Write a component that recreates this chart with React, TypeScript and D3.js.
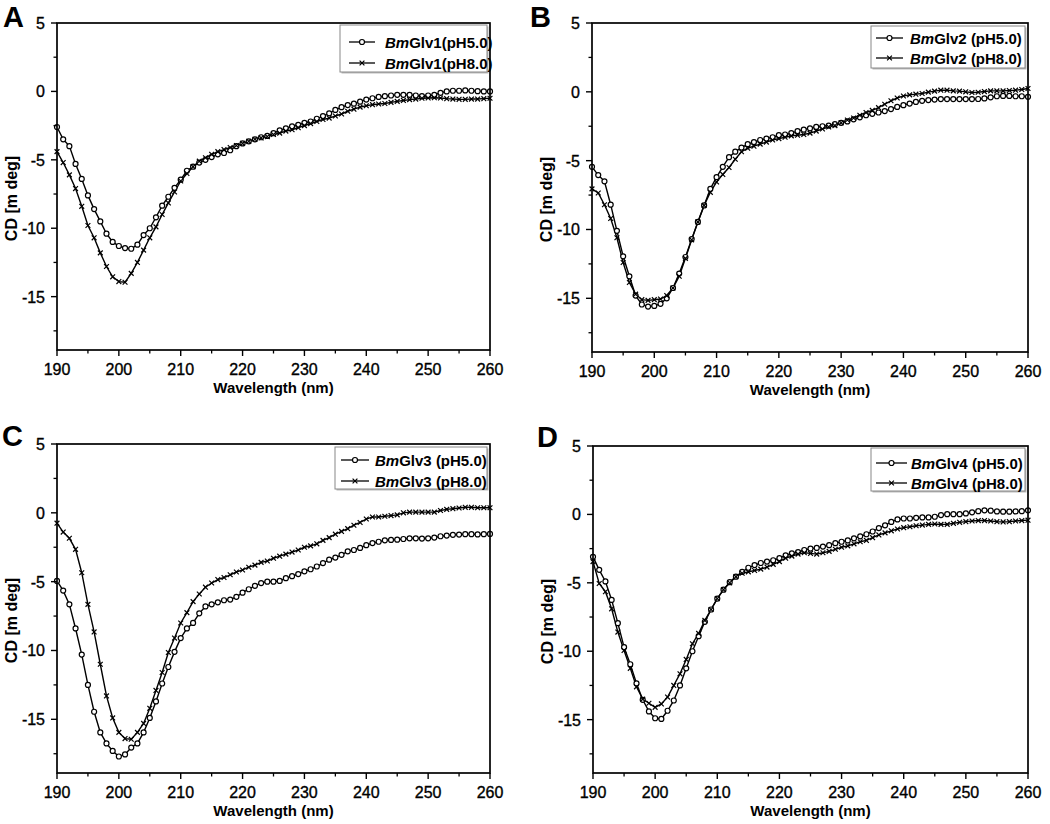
import React from "react";
import * as d3 from "d3";

const wavelengths: number[] = d3.range(190, 261, 1);

const xTicks = [190, 200, 210, 220, 230, 240, 250, 260];
const yTicks = [5, 0, -5, -10, -15];

const A_pH5 = [-2.6,-3.5,-4.0,-5.3,-6.4,-7.6,-8.6,-9.5,-10.4,-11.0,
-11.3,-11.45,-11.5,-11.2,-10.5,-10.0,-9.2,-8.35,-7.7,-7.05,
-6.45,-5.8,-5.5,-5.2,-5.0,-4.8,-4.6,-4.5,-4.3,-4.0,
-3.8,-3.65,-3.5,-3.35,-3.25,-3.05,-2.85,-2.7,-2.55,-2.45,
-2.3,-2.2,-2.0,-1.8,-1.6,-1.35,-1.15,-1.0,-0.9,-0.75,
-0.6,-0.5,-0.4,-0.35,-0.3,-0.25,-0.25,-0.25,-0.3,-0.35,
-0.3,-0.25,-0.1,0,0.05,0.05,0.07,0.05,0.02,0,
0];
const A_pH8 = [-4.4,-5.2,-6.1,-7.1,-8.4,-9.8,-10.7,-11.8,-12.8,-13.55,
-13.9,-13.95,-13.3,-12.5,-11.6,-10.7,-9.9,-9.0,-8.15,-7.35,
-6.55,-6.0,-5.5,-5.1,-4.85,-4.6,-4.4,-4.25,-4.1,-3.95,
-3.8,-3.65,-3.5,-3.4,-3.3,-3.15,-3.05,-2.9,-2.8,-2.65,
-2.5,-2.35,-2.2,-2.05,-1.95,-1.8,-1.65,-1.45,-1.3,-1.15,
-1.05,-0.97,-0.92,-0.88,-0.8,-0.73,-0.66,-0.6,-0.56,-0.5,
-0.48,-0.46,-0.48,-0.53,-0.56,-0.58,-0.58,-0.56,-0.56,-0.53,
-0.5];
const B_pH5 = [-5.45,-6.05,-6.5,-8.2,-10.1,-11.95,-13.4,-14.8,-15.45,-15.6,
-15.55,-15.4,-15.0,-14.25,-13.2,-12.0,-10.7,-9.45,-8.25,-7.05,
-6.2,-5.45,-4.75,-4.35,-4.05,-3.8,-3.65,-3.5,-3.4,-3.3,
-3.15,-3.1,-3.0,-2.85,-2.75,-2.65,-2.55,-2.5,-2.45,-2.35,
-2.25,-2.15,-2.0,-1.85,-1.7,-1.6,-1.5,-1.4,-1.25,-1.1,
-0.97,-0.85,-0.73,-0.65,-0.6,-0.56,-0.53,-0.53,-0.53,-0.53,
-0.53,-0.53,-0.52,-0.48,-0.4,-0.32,-0.3,-0.3,-0.32,-0.32,
-0.36];
const B_pH8 = [-7.05,-7.35,-8.2,-9.2,-10.6,-12.4,-13.85,-14.7,-15.1,-15.15,
-15.1,-15.05,-14.8,-14.25,-13.4,-12.1,-10.75,-9.45,-8.25,-7.3,
-6.55,-6.0,-5.5,-4.9,-4.35,-4.1,-3.95,-3.8,-3.65,-3.5,
-3.4,-3.3,-3.2,-3.15,-3.1,-3.0,-2.85,-2.7,-2.55,-2.45,
-2.25,-2.05,-1.9,-1.7,-1.5,-1.35,-1.15,-0.9,-0.65,-0.45,
-0.3,-0.22,-0.17,-0.12,-0.02,0.05,0.12,0.12,0.07,0.05,
0,-0.05,-0.03,0.02,0.07,0.07,0.07,0.1,0.12,0.17,
0.24];
const C_pH5 = [-4.95,-5.65,-6.65,-8.4,-10.3,-12.5,-14.45,-15.95,-16.75,-17.3,
-17.7,-17.55,-17.05,-16.75,-15.95,-14.9,-13.7,-12.4,-11.2,-10.1,
-9.1,-8.4,-8.0,-7.3,-6.8,-6.65,-6.5,-6.35,-6.3,-6.1,
-5.8,-5.55,-5.3,-5.1,-5.0,-5.0,-4.95,-4.75,-4.6,-4.45,
-4.25,-4.1,-3.9,-3.65,-3.4,-3.25,-3.05,-2.8,-2.7,-2.55,
-2.35,-2.2,-2.1,-2.0,-1.97,-1.95,-1.9,-1.85,-1.85,-1.87,
-1.85,-1.8,-1.7,-1.65,-1.6,-1.58,-1.55,-1.55,-1.57,-1.55,
-1.53];
const C_pH8 = [-0.75,-1.4,-1.85,-2.65,-4.35,-6.65,-8.65,-11.0,-13.3,-14.9,
-15.95,-16.4,-16.45,-15.95,-15.3,-14.2,-12.9,-11.6,-10.15,-9.1,
-8.0,-7.25,-6.45,-5.9,-5.4,-5.1,-4.85,-4.7,-4.5,-4.3,
-4.15,-3.95,-3.8,-3.6,-3.5,-3.3,-3.15,-3.0,-2.85,-2.7,
-2.5,-2.4,-2.25,-2.0,-1.8,-1.55,-1.35,-1.15,-0.9,-0.7,
-0.45,-0.3,-0.3,-0.25,-0.2,-0.15,0,0.05,0.05,0.05,
0.05,0.05,0.17,0.25,0.3,0.35,0.4,0.4,0.37,0.37,
0.37];
const D_pH5 = [-3.1,-4.05,-4.9,-6.25,-7.95,-9.7,-10.95,-12.35,-13.55,-14.4,
-14.9,-14.95,-14.35,-13.6,-12.5,-11.25,-10.0,-8.9,-7.85,-6.95,
-6.15,-5.5,-4.95,-4.55,-4.2,-3.9,-3.7,-3.55,-3.45,-3.35,
-3.2,-3.0,-2.85,-2.75,-2.6,-2.5,-2.45,-2.35,-2.25,-2.1,
-2.0,-1.9,-1.75,-1.6,-1.45,-1.25,-1.0,-0.8,-0.55,-0.37,
-0.3,-0.3,-0.25,-0.22,-0.22,-0.17,-0.05,0.02,0.02,0.02,
0.07,0.15,0.24,0.3,0.27,0.22,0.2,0.2,0.22,0.24,
0.3];
const D_pH8 = [-3.45,-5.05,-5.65,-6.9,-8.6,-9.95,-11.25,-12.6,-13.5,-13.8,
-14.1,-13.85,-13.35,-12.5,-11.65,-10.6,-9.45,-8.7,-7.75,-6.95,
-6.15,-5.5,-5.0,-4.55,-4.3,-4.2,-4.1,-4.0,-3.85,-3.65,
-3.45,-3.2,-3.05,-2.9,-2.8,-2.85,-2.9,-2.8,-2.7,-2.55,
-2.4,-2.3,-2.15,-2.0,-1.9,-1.7,-1.5,-1.35,-1.2,-1.07,
-0.97,-0.9,-0.83,-0.78,-0.73,-0.7,-0.73,-0.73,-0.65,-0.58,
-0.53,-0.48,-0.45,-0.45,-0.48,-0.53,-0.55,-0.53,-0.48,-0.45,
-0.42];

const FONT = "'Liberation Sans', Arial, Helvetica, sans-serif";

type PanelCfg = {
  letter: string;
  name: string;
  sep: string;
  pH5: number[];
  pH8: number[];
  left: number; top: number; right: number; bottom: number;
  letterX: number; letterY: number;
  leg: { x0: number; x1: number; y0: number; y1: number; lx0: number; lx1: number; tx: number; r1: number; r2: number };
};

const panels: PanelCfg[] = [
  { letter: "A", name: "Glv1", sep: "", pH5: A_pH5, pH8: A_pH8, left: 57, top: 23, right: 490, bottom: 350, letterX: 3, letterY: 26.5,
    leg: { x0: 340, x1: 487, y0: 25, y1: 72, lx0: 349, lx1: 375, tx: 385, r1: 42, r2: 63 } },
  { letter: "B", name: "Glv2", sep: " ", pH5: B_pH5, pH8: B_pH8, left: 592, top: 23, right: 1028, bottom: 352, letterX: 530, letterY: 26.5,
    leg: { x0: 871, x1: 1025, y0: 26, y1: 68, lx0: 876, lx1: 903, tx: 910, r1: 38, r2: 58 } },
  { letter: "C", name: "Glv3", sep: " ", pH5: C_pH5, pH8: C_pH8, left: 57, top: 444, right: 490, bottom: 773, letterX: 2, letterY: 446,
    leg: { x0: 335, x1: 487, y0: 447, y1: 489, lx0: 341, lx1: 369, tx: 375, r1: 460, r2: 481 } },
  { letter: "D", name: "Glv4", sep: " ", pH5: D_pH5, pH8: D_pH8, left: 593, top: 446, right: 1028, bottom: 773, letterX: 537, letterY: 447,
    leg: { x0: 871, x1: 1025, y0: 448, y1: 491, lx0: 876, lx1: 907, tx: 911, r1: 463, r2: 483 } },
];

const Circle = ({ x, y }: { x: number; y: number }) => (
  <circle cx={x} cy={y} r={2.5} fill="white" stroke="#000" strokeWidth={1.2} />
);
const Cross = ({ x, y }: { x: number; y: number }) => (
  <path d={`M${x - 2.4},${y - 2.4}L${x + 2.4},${y + 2.4}M${x - 2.4},${y + 2.4}L${x + 2.4},${y - 2.4}`} stroke="#000" strokeWidth={1.2} />
);

function Panel({ p }: { p: PanelCfg }) {
  const x = d3.scaleLinear().domain([190, 260]).range([p.left, p.right]);
  const y = d3.scaleLinear().domain([-18.9, 5]).range([p.bottom, p.top]);
  const line = d3.line<number>().x((_, i) => x(wavelengths[i])).y((v) => y(v));
  const xMinor = d3.range(195, 260, 10);
  const yMinor = [2.5, -2.5, -7.5, -12.5, -17.5];
  const cx = (p.left + p.right) / 2;
  const cy = (p.top + p.bottom) / 2 + 12;
  const L = p.leg;
  const lm = (L.lx0 + L.lx1) / 2;
  const tickText = { fontFamily: FONT, fontSize: 16, stroke: "#000", strokeWidth: 0.35 } as const;
  return (
    <g>
      <text x={p.letterX} y={p.letterY} fontFamily={FONT} fontWeight="bold" fontSize={29}>{p.letter}</text>
      <path d={line(p.pH5) || ""} fill="none" stroke="#000" strokeWidth={1.4} />
      <path d={line(p.pH8) || ""} fill="none" stroke="#000" strokeWidth={1.4} />
      {p.pH5.map((v, i) => <Circle key={"c" + i} x={x(wavelengths[i])} y={y(v)} />)}
      {p.pH8.map((v, i) => <Cross key={"x" + i} x={x(wavelengths[i])} y={y(v)} />)}
      <rect x={p.left} y={p.top} width={p.right - p.left} height={p.bottom - p.top} fill="none" stroke="#000" strokeWidth={1.7} />
      {xTicks.map((t) => (
        <g key={"xt" + t}>
          <line x1={x(t)} x2={x(t)} y1={p.bottom} y2={p.bottom + 6} stroke="#000" strokeWidth={1.4} />
          <text x={x(t)} y={p.bottom + 25} textAnchor="middle" {...tickText}>{t}</text>
        </g>
      ))}
      {xMinor.map((t) => (
        <line key={"xm" + t} x1={x(t)} x2={x(t)} y1={p.bottom} y2={p.bottom + 3.5} stroke="#000" strokeWidth={1.3} />
      ))}
      {yTicks.map((t) => (
        <g key={"yt" + t}>
          <line x1={p.left - 6} x2={p.left} y1={y(t)} y2={y(t)} stroke="#000" strokeWidth={1.4} />
          <text x={p.left - 12} y={y(t) + 6} textAnchor="end" {...tickText}>{t}</text>
        </g>
      ))}
      {yMinor.map((t) => (
        <line key={"ym" + t} x1={p.left - 3.5} x2={p.left} y1={y(t)} y2={y(t)} stroke="#000" strokeWidth={1.3} />
      ))}
      <text x={cx} y={p.bottom + 43} textAnchor="middle" fontFamily={FONT} fontWeight="bold" fontSize={15}>Wavelength (nm)</text>
      <text transform={`translate(${p.left - 40},${cy}) rotate(-90)`} textAnchor="middle" fontFamily={FONT} fontWeight="bold" fontSize={16}>CD [m deg]</text>
      <rect x={L.x0 + 1.5} y={L.y0 + 1.5} width={L.x1 - L.x0} height={L.y1 - L.y0} fill="#bbb" />
      <rect x={L.x0} y={L.y0} width={L.x1 - L.x0} height={L.y1 - L.y0} fill="white" stroke="#888" strokeWidth={1} />
      <line x1={L.lx0} x2={L.lx1} y1={L.r1} y2={L.r1} stroke="#000" strokeWidth={1.3} />
      <Circle x={lm} y={L.r1} />
      <line x1={L.lx0} x2={L.lx1} y1={L.r2} y2={L.r2} stroke="#000" strokeWidth={1.3} />
      <Cross x={lm} y={L.r2} />
      <text x={L.tx} y={L.r1 + 5.5} fontFamily={FONT} fontWeight="bold" fontSize={15}>
        <tspan fontStyle="italic">Bm</tspan>{p.name}{p.sep}(pH5.0)
      </text>
      <text x={L.tx} y={L.r2 + 5.5} fontFamily={FONT} fontWeight="bold" fontSize={15}>
        <tspan fontStyle="italic">Bm</tspan>{p.name}{p.sep}(pH8.0)
      </text>
    </g>
  );
}

export default function App() {
  return (
    <svg width={1050} height={824} style={{ position: "absolute", left: 0, top: 0, background: "white" }}>
      <rect x={0} y={0} width={1050} height={824} fill="white" />
      {panels.map((p) => <Panel key={p.letter} p={p} />)}
    </svg>
  );
}
